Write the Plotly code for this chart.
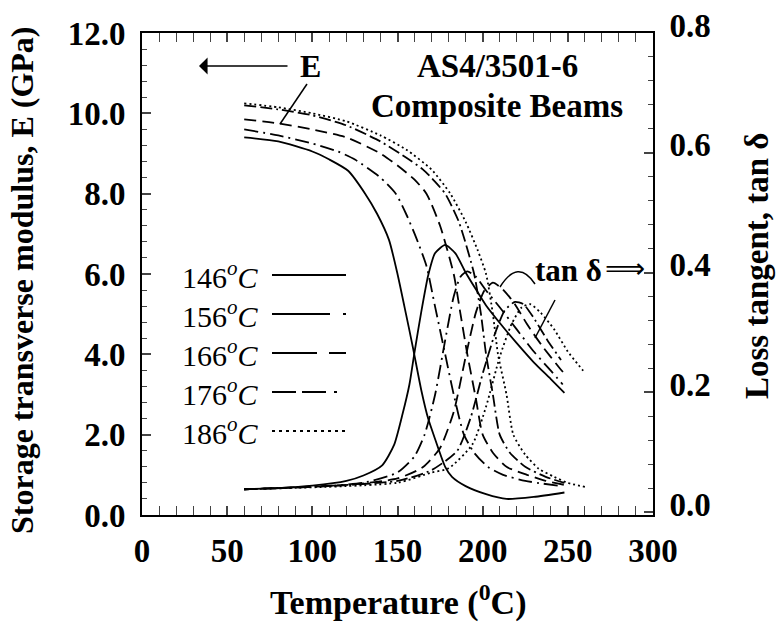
import plotly.graph_objects as go

# ---------------- data ----------------
# Storage modulus E (GPa)
T_E146 = [60, 80, 100, 110, 121, 131, 138, 145, 150, 155, 159, 164, 168, 172, 178, 182, 190, 202, 214, 230, 248]
E146 = [9.40, 9.30, 9.05, 8.85, 8.57, 8.00, 7.50, 6.85, 6.00, 5.00, 4.18, 3.10, 2.40, 1.90, 1.20, 0.95, 0.72, 0.52, 0.40, 0.45, 0.56]

T_E156 = [60, 80, 100, 115, 125, 140, 149, 155, 161, 167, 172, 178, 183, 189, 195, 203, 212, 225, 246]
E156 = [9.60, 9.45, 9.25, 9.05, 8.85, 8.40, 8.00, 7.50, 6.90, 6.20, 5.20, 4.00, 3.00, 2.00, 1.55, 1.20, 1.00, 0.85, 0.72]

T_E166 = [60, 80, 100, 120, 140, 150, 160, 167, 175, 183, 187, 191, 196, 200, 206, 214, 226, 237, 248]
E166 = [9.85, 9.75, 9.60, 9.40, 9.00, 8.70, 8.35, 8.00, 7.20, 6.00, 5.00, 4.00, 2.90, 2.00, 1.55, 1.20, 1.00, 0.85, 0.75]

T_E176 = [60, 80, 100, 120, 140, 155, 165, 172, 178, 186, 195, 199, 202, 206, 210, 216, 225, 237, 248]
E176 = [10.20, 10.10, 9.95, 9.70, 9.30, 8.90, 8.60, 8.30, 8.00, 7.30, 6.00, 5.00, 4.00, 3.00, 2.00, 1.55, 1.20, 0.95, 0.80]

T_E186 = [60, 80, 100, 120, 140, 155, 170, 181, 190, 197, 202, 206, 209, 214, 218, 225, 233, 242, 250, 260]
E186 = [10.25, 10.15, 10.00, 9.80, 9.45, 9.10, 8.60, 8.00, 7.30, 6.60, 6.00, 5.00, 4.00, 3.00, 2.00, 1.50, 1.15, 0.95, 0.80, 0.70]

# Loss tangent tan delta
T_D146 = [60, 80, 100, 120, 130, 141, 148, 153, 157, 160, 164, 168, 172, 178, 184, 190, 196, 202, 212, 220, 230, 240, 248]
D146 = [0.038, 0.040, 0.044, 0.052, 0.061, 0.078, 0.112, 0.164, 0.213, 0.267, 0.335, 0.395, 0.432, 0.446, 0.432, 0.400, 0.372, 0.345, 0.309, 0.282, 0.250, 0.222, 0.199]

T_D156 = [60, 100, 130, 150, 160, 166, 172, 178, 183, 187, 191, 196, 202, 210, 220, 230, 240, 247]
D156 = [0.038, 0.042, 0.049, 0.066, 0.093, 0.130, 0.195, 0.287, 0.360, 0.393, 0.402, 0.393, 0.370, 0.342, 0.305, 0.268, 0.236, 0.213]

T_D166 = [60, 120, 150, 165, 175, 183, 190, 196, 201, 206, 211, 218, 226, 235, 245, 248]
D166 = [0.038, 0.045, 0.056, 0.075, 0.107, 0.167, 0.259, 0.333, 0.370, 0.383, 0.374, 0.351, 0.314, 0.277, 0.241, 0.231]

T_D176 = [60, 150, 170, 185, 193, 200, 207, 213, 219, 224, 230, 238, 246]
D176 = [0.038, 0.052, 0.070, 0.102, 0.158, 0.231, 0.296, 0.337, 0.351, 0.347, 0.324, 0.287, 0.254]

T_D186 = [60, 150, 170, 180, 194, 202, 210, 217, 223, 228, 234, 242, 250, 259]
D186 = [0.038, 0.049, 0.066, 0.073, 0.113, 0.176, 0.259, 0.314, 0.342, 0.347, 0.333, 0.305, 0.268, 0.236]

legend_labels = ["146", "156", "166", "176", "186"]
x_ticks = [0, 50, 100, 150, 200, 250, 300]
y_ticks = [0, 2, 4, 6, 8, 10, 12]
y2_ticks = [0.0, 0.2, 0.4, 0.6, 0.8]

# ---------------- styles ----------------
FONT = "Liberation Serif"
curve_dash = ["solid", "14px,5px,2px,5px", "12px,6px", "12px,4px,12px,4px,2px,4px", "2px,3px"]
legend_dash = ["solid", "58px,13px,3px,10px", "45px,12px,17px,10px", "24px,6px,24px,8px,3px,10px", "3px,4px"]
LW = 1.8

E_sets = [(T_E146, E146), (T_E156, E156), (T_E166, E166), (T_E176, E176), (T_E186, E186)]
D_sets = [(T_D146, D146), (T_D156, D156), (T_D166, D166), (T_D176, D176), (T_D186, D186)]

fig = go.Figure()
for i, (t, e) in enumerate(E_sets):
    fig.add_trace(go.Scatter(x=t, y=e, mode="lines", line=dict(color="black", width=LW, dash=curve_dash[i], shape="spline", smoothing=0.6),
                             showlegend=False, hoverinfo="skip"))
for i, (t, d) in enumerate(D_sets):
    fig.add_trace(go.Scatter(x=t, y=d, mode="lines", yaxis="y2", line=dict(color="black", width=LW, dash=curve_dash[i], shape="spline", smoothing=0.6),
                             showlegend=False, hoverinfo="skip"))

# plot area in pixels
L, R, TOP, BOT = 142, 653, 33, 515
W, H = 779, 635

def px(xp):
    return (xp - L) / (R - L)

def py(yp):
    return (BOT - yp) / (BOT - TOP)

shapes = []
annotations = []

# manual legend
leg_y = [275, 314, 353, 392, 431]
for i, lab in enumerate(legend_labels):
    annotations.append(dict(xref="paper", yref="paper", x=px(220), y=py(leg_y[i]), text=lab + "<i><sup>o</sup>C</i>",
                            showarrow=False, font=dict(family=FONT, size=30, color="black"), xanchor="center", yanchor="middle"))
    shapes.append(dict(type="line", xref="paper", yref="paper", x0=px(272), x1=px(346), y0=py(leg_y[i]), y1=py(leg_y[i]),
                       line=dict(color="black", width=2, dash=legend_dash[i])))

# E label with arrow
annotations.append(dict(xref="paper", yref="paper", x=px(310), y=py(66), text="<b>E</b>", showarrow=False,
                        font=dict(family=FONT, size=32, color="black"), xanchor="center", yanchor="middle"))
annotations.append(dict(xref="paper", yref="paper", x=px(199), y=py(66), ax=90, ay=0, axref="pixel", ayref="pixel",
                        text="", showarrow=True, arrowhead=1, arrowsize=2.2, arrowwidth=1.3, arrowcolor="black"))
shapes.append(dict(type="line", xref="paper", yref="paper", x0=px(307), y0=py(84), x1=px(280), y1=py(124),
                   line=dict(color="black", width=1.5)))

# title text
annotations.append(dict(xref="paper", yref="paper", x=px(497), y=py(66), text="<b>AS4/3501-6</b>", showarrow=False,
                        font=dict(family=FONT, size=33, color="black"), xanchor="center", yanchor="middle"))
annotations.append(dict(xref="paper", yref="paper", x=px(497), y=py(106), text="<b>Composite Beams</b>", showarrow=False,
                        font=dict(family=FONT, size=33, color="black"), xanchor="center", yanchor="middle"))

# tan delta label
annotations.append(dict(xref="paper", yref="paper", x=px(568), y=py(270), text="<b>tan δ</b>", showarrow=False,
                        font=dict(family=FONT, size=31, color="black"), xanchor="center", yanchor="middle"))
annotations.append(dict(xref="paper", yref="paper", x=px(625), y=py(268), text="⟹", showarrow=False,
                        font=dict(family="DejaVu Sans", size=28, color="black"), xanchor="center", yanchor="middle"))
shapes.append(dict(type="path", xref="paper", yref="paper",
                   path=f"M {px(535)},{py(284)} Q {px(518)},{py(258)} {px(500)},{py(287)}",
                   line=dict(color="black", width=1.5)))
shapes.append(dict(type="line", xref="paper", yref="paper", x0=px(555), y0=py(300), x1=px(535), y1=py(338),
                   line=dict(color="black", width=1.5)))

# axis titles
annotations.append(dict(xref="paper", yref="paper", x=px(398), y=py(600), text="<b>Temperature (<sup>0</sup>C)</b>", showarrow=False,
                        font=dict(family=FONT, size=34, color="black"), xanchor="center", yanchor="middle"))
annotations.append(dict(xref="paper", yref="paper", x=px(22), y=py(280), text="<b>Storage transverse modulus, E (GPa)</b>", showarrow=False,
                        textangle=-90, font=dict(family=FONT, size=32, color="black"), xanchor="center", yanchor="middle"))
annotations.append(dict(xref="paper", yref="paper", x=px(757), y=py(266), text="<b>Loss tangent, tan δ</b>", showarrow=False,
                        textangle=-90, font=dict(family=FONT, size=33, color="black"), xanchor="center", yanchor="middle"))

tickfont = dict(family=FONT, size=33, color="black")

fig.update_layout(
    width=W, height=H,
    margin=dict(l=L, r=W - R, t=TOP, b=H - BOT, autoexpand=False),
    paper_bgcolor="white", plot_bgcolor="white",
    shapes=shapes, annotations=annotations,
    xaxis=dict(range=[0, 300], tickvals=x_ticks, ticktext=[f"<b>{v}</b>" for v in x_ticks], ticks="inside", ticklen=9, tickwidth=1.5,
               minor=dict(dtick=10, ticks="inside", ticklen=5, tickwidth=1.3, showgrid=False),
               showline=True, linecolor="black", linewidth=2, mirror="allticks", showgrid=False, zeroline=False,
               tickfont=tickfont, ticklabelstandoff=5),
    yaxis=dict(range=[0, 12], tickvals=y_ticks, ticktext=[f"<b>{v:.1f}</b>" for v in y_ticks], ticks="inside", ticklen=9, tickwidth=1.5,
               minor=dict(dtick=0.4, ticks="inside", ticklen=5, tickwidth=1.3, showgrid=False),
               showline=True, linecolor="black", linewidth=2, mirror=True, showgrid=False, zeroline=False,
               tickfont=tickfont, ticklabelstandoff=8),
    yaxis2=dict(range=[-0.005, 0.8], overlaying="y", side="right", tickvals=y2_ticks, ticktext=[f"<b>{v:.1f}</b>" for v in y2_ticks],
                ticks="inside", ticklen=9, tickwidth=1.5,
                minor=dict(dtick=0.04, ticks="inside", ticklen=5, tickwidth=1.3, showgrid=False),
                showline=True, linecolor="black", linewidth=2, showgrid=False, zeroline=False,
                tickfont=tickfont, ticklabelstandoff=8, ticklabelshift=-8),
    showlegend=False,
)

fig.write_html("out.html", post_script="document.body.style.margin='0px';", config={"displayModeBar": False})
